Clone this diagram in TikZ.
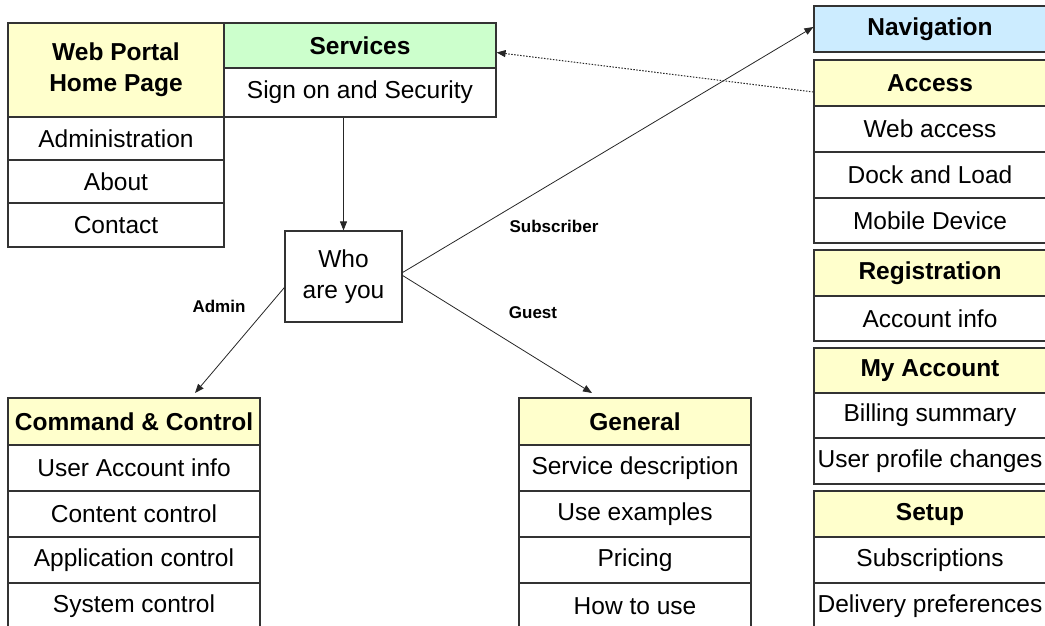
\documentclass[tikz,border=0pt]{standalone}
\usepackage{fontspec}
\setmainfont{Liberation Sans}
\usetikzlibrary{arrows.meta,calc}

\definecolor{hdryellow}{HTML}{FFFFCC}
\definecolor{hdrgreen}{HTML}{CCFFCC}
\definecolor{hdrblue}{HTML}{CCECFF}
\definecolor{edge}{HTML}{333333}

\begin{document}
\begin{tikzpicture}[x=1pt,y=-1pt,
  cell/.style={draw=edge, line width=1.2pt, fill=white, inner sep=0pt,
    font=\fontsize{24.5}{31}\selectfont, align=center},
  hdr/.style={cell, fill=hdryellow, font=\fontsize{24.5}{31}\selectfont\bfseries},
  lbl/.style={font=\fontsize{17}{19}\selectfont\bfseries, inner sep=0pt},
  link/.style={line width=0.8pt, draw=black!85, -{Triangle[length=9pt,width=7pt]}},
  backlink/.style={link, line width=1pt, dash pattern=on 1.5pt off 1.5pt}
]
\useasboundingbox (0,0) rectangle (1045,626);

% Home page column
\node[hdr, minimum width=216pt, minimum height=94pt] (home) at (116,70) {Web Portal\\Home Page};
\node[cell, minimum width=216pt, minimum height=43pt] (admin) at (116,138.5) {Administration};
\node[cell, minimum width=216pt, minimum height=43pt] (about) at (116,181.5) {About};
\node[cell, minimum width=216pt, minimum height=44pt] (contact) at (116,225) {Contact};

% Services
\node[hdr, fill=hdrgreen, minimum width=272pt, minimum height=45pt] (services) at (360,45.5) {Services};
\node[cell, minimum width=272pt, minimum height=49pt] (signon) at (360,92.5) {Sign on and Security};

% Decision box
\node[cell, minimum width=117pt, minimum height=91pt] (who) at (343.5,276.5) {Who\\are you};

% Command & Control column
\node[hdr, minimum width=252pt, minimum height=47pt] (cc) at (134,421.5) {Command \& Control};
\node[cell, minimum width=252pt, minimum height=46pt] (ccuser) at (134,468) {User Account info};
\node[cell, minimum width=252pt, minimum height=46pt] (cccontent) at (134,514) {Content control};
\node[cell, minimum width=252pt, minimum height=46pt] (ccapp) at (134,560) {Application control};
\node[cell, minimum width=252pt, minimum height=46pt] (ccsys) at (134,606) {System control};

% General column
\node[hdr, minimum width=232pt, minimum height=47pt] (gen) at (635,421.5) {General};
\node[cell, minimum width=232pt, minimum height=46pt] (gendesc) at (635,468) {Service description};
\node[cell, minimum width=232pt, minimum height=46pt] (genex) at (635,514) {Use examples};
\node[cell, minimum width=232pt, minimum height=46pt] (genprice) at (635,560) {Pricing};
\node[cell, minimum width=232pt, minimum height=46pt] (genhow) at (635,606) {How to use};

% Navigation column
\node[hdr, fill=hdrblue, minimum width=232pt, minimum height=46pt] (nav) at (930,29) {Navigation};
\node[hdr, minimum width=232pt, minimum height=46pt] (access) at (930,83) {Access};
\node[cell, minimum width=232pt, minimum height=46pt] (web) at (930,129) {Web access};
\node[cell, minimum width=232pt, minimum height=46pt] (dock) at (930,175) {Dock and Load};
\node[cell, minimum width=232pt, minimum height=45pt] (mobile) at (930,220.5) {Mobile Device};
\node[hdr, minimum width=232pt, minimum height=46pt] (reg) at (930,273) {Registration};
\node[cell, minimum width=232pt, minimum height=45pt] (acct) at (930,318.5) {Account info};
\node[hdr, minimum width=232pt, minimum height=45pt] (myacct) at (930,370.5) {My Account};
\node[cell, minimum width=232pt, minimum height=45pt] (bill) at (930,415.5) {Billing summary};
\node[cell, minimum width=232pt, minimum height=46pt] (profile) at (930,461) {User profile changes};
\node[hdr, minimum width=232pt, minimum height=46pt] (setup) at (930,514) {Setup};
\node[cell, minimum width=232pt, minimum height=46pt] (subs) at (930,560) {Subscriptions};
\node[cell, minimum width=232pt, minimum height=46pt] (deliv) at (930,606) {Delivery preferences};

% Arrow end points just above the lower columns
\coordinate (adminTip) at (195,393);
\coordinate (guestTip) at (592,393);

% Connectors
\draw[link] (who.north |- signon.south) -- (who.north);
\draw[link] ($(who.west)+(0,11)$) -- (adminTip);
\draw[link] ($(who.east)+(0,-1)$) -- (guestTip);
\draw[link] ($(who.east)+(0,-4)$) -- ($(nav.west)+(0,-2)$);
\draw[backlink] ($(access.west)+(0,9)$) -- ($(services.east)+(0,7)$);

% Role labels
\node[lbl] (lsub) at (554,226) {Subscriber};
\node[lbl] (ladmin) at (219,306) {Admin};
\node[lbl] (lguest) at (533,313) {Guest};
\end{tikzpicture}
\end{document}
